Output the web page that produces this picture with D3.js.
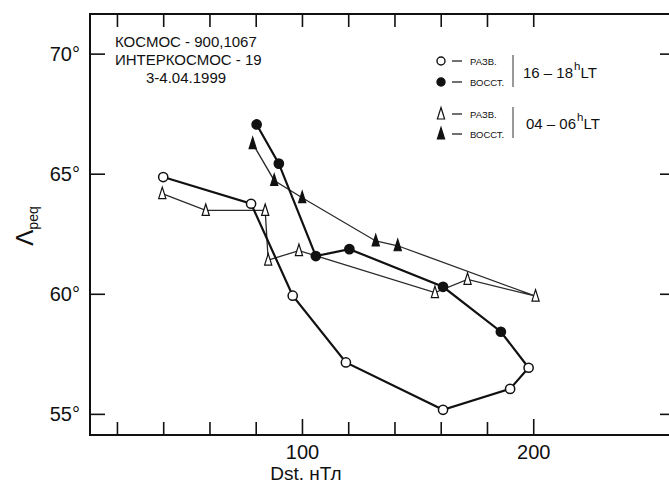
<!DOCTYPE html>
<html><head><meta charset="utf-8">
<script src="https://cdn.jsdelivr.net/npm/d3@7"></script>
<style>
html,body{margin:0;padding:0;background:#fff;overflow:hidden}
svg{display:block;font-family:"Liberation Sans",Arial,sans-serif}
</style></head>
<body>
<script>
// ---- data (Dst, nT ; Λpeq, deg) ----
const circOpenDst  = [40, 78, 96, 119, 161, 190, 198];
const circOpenLat  = [64.86, 63.75, 59.92, 57.14, 55.17, 56.04, 56.92];
const circFillDst  = [186, 161, 120.5, 106, 90, 80.4];
const circFillLat  = [58.42, 60.29, 61.86, 61.57, 65.42, 67.05];
const triOpenDst   = [39.6, 58.4, 84.1, 85.4, 98.7, 157.5, 171.6, 201];
const triOpenLat   = [64.17, 63.47, 63.47, 61.4, 61.8, 60.05, 60.6, 59.9];
const triFillDst   = [141.4, 131.9, 100.1, 88, 78.7];
const triFillLat   = [62.0, 62.2, 64.0, 64.72, 66.25];
const xTicks = [20, 40, 60, 80, 100, 120, 140, 160, 180, 200];
const xMajor = [100, 200];
const yTicks = [55, 60, 65, 70];
const titleLines = ["КОСМОС - 900,1067", "ИНТЕРКОСМОС - 19", "3-4.04.1999"];

const W = 669, H = 483;
const svg = d3.select("body").append("svg").attr("width", W).attr("height", H);
const L = 90, T = 14, R = 672, B = 435;
const x = d3.scaleLinear().domain([8.35, 260]).range([L, R]);
const y = d3.scaleLinear().domain([54.12, 71.65]).range([B, T]);

// frame
svg.append("rect").attr("x", L).attr("y", T).attr("width", R - L).attr("height", B - T)
  .attr("fill", "none").attr("stroke", "#111").attr("stroke-width", 2);

const fmtDeg = d => d + "°";
const axB = svg.append("g").attr("transform", `translate(0,${B})`)
  .call(d3.axisBottom(x).tickValues(xTicks).tickSizeInner(0).tickSizeOuter(0).tickFormat(d => xMajor.includes(d) ? d : ""));
axB.select(".domain").remove();
axB.selectAll(".tick line").attr("y2", d => xMajor.includes(d) ? -16 : -13).attr("stroke", "#111").attr("stroke-width", 1.6);
axB.selectAll(".tick text").attr("y", 10).attr("dy", "0.71em").attr("font-size", 20).attr("fill", "#111")
  .attr("font-family", "Liberation Sans, Arial, sans-serif");

const axT = svg.append("g").attr("transform", `translate(0,${T})`)
  .call(d3.axisTop(x).tickValues(xTicks).tickSizeInner(0).tickSizeOuter(0).tickFormat(""));
axT.select(".domain").remove();
axT.selectAll(".tick line").attr("y2", 13).attr("stroke", "#111").attr("stroke-width", 1.6);

const axL = svg.append("g").attr("transform", `translate(${L},0)`)
  .call(d3.axisLeft(y).tickValues(yTicks).tickSizeInner(0).tickSizeOuter(0).tickFormat(fmtDeg));
axL.select(".domain").remove();
axL.selectAll(".tick line").attr("x2", 15).attr("stroke", "#111").attr("stroke-width", 1.6);
axL.selectAll(".tick text").attr("x", -10).attr("font-size", 20).attr("fill", "#111")
  .attr("font-family", "Liberation Sans, Arial, sans-serif");

const axR = svg.append("g").attr("transform", `translate(${R},0)`)
  .call(d3.axisRight(y).tickValues(yTicks).tickSizeInner(0).tickSizeOuter(0).tickFormat(""));
axR.select(".domain").remove();
axR.selectAll(".tick line").attr("x2", -12).attr("stroke", "#111").attr("stroke-width", 1.6);

// axis titles
svg.append("text").attr("x", 306).attr("y", 480).attr("text-anchor", "middle")
  .attr("font-size", 19).attr("fill", "#111").text("Dst. нТл");
const yl = svg.append("text").attr("transform", "translate(33,226) rotate(-90)")
  .attr("text-anchor", "middle").attr("fill", "#111");
yl.append("tspan").attr("font-size", 24).text("Λ");
yl.append("tspan").attr("font-size", 14).attr("dy", 5).text("peq");

// title block
const tt = svg.append("g").attr("font-size", 15).attr("fill", "#111");
tt.append("text").attr("x", 115).attr("y", 47).text(titleLines[0]);
tt.append("text").attr("x", 115).attr("y", 65).text(titleLines[1]);
tt.append("text").attr("x", 146).attr("y", 83).text(titleLines[2]);

// series
const zip = (a, b) => a.map((v, i) => [v, b[i]]);
const circAll = zip(circOpenDst, circOpenLat).concat(zip(circFillDst, circFillLat));
const triAll = zip(triOpenDst, triOpenLat).concat(zip(triFillDst, triFillLat));
const line = d3.line().x(d => x(d[0])).y(d => y(d[1]));

svg.append("path").attr("d", line(triAll)).attr("fill", "none")
  .attr("stroke", "#2a2a2a").attr("stroke-width", 1.3);
svg.append("path").attr("d", line(circAll)).attr("fill", "none")
  .attr("stroke", "#111").attr("stroke-width", 2.2);

const triPath = "M0,-6.5L3.6,5L-3.6,5Z";
function tri(data, fill) {
  svg.append("g").selectAll("path").data(data).join("path")
    .attr("d", triPath).attr("transform", d => `translate(${x(d[0])},${y(d[1])})`)
    .attr("fill", fill).attr("stroke", "#111").attr("stroke-width", 1.2);
}
function circ(data, fill) {
  svg.append("g").selectAll("circle").data(data).join("circle")
    .attr("cx", d => x(d[0])).attr("cy", d => y(d[1])).attr("r", 4.6)
    .attr("fill", fill).attr("stroke", "#111").attr("stroke-width", 1.5);
}
tri(zip(triOpenDst, triOpenLat), "#fff");
tri(zip(triFillDst, triFillLat), "#111");
circ(zip(circOpenDst, circOpenLat), "#fff");
circ(zip(circFillDst, circFillLat), "#111");

// legend
const lg = svg.append("g").attr("fill", "#111");
const rows = [
  {y: 61, m: "co", lab: "РАЗВ."}, {y: 82, m: "cf", lab: "ВОССТ."},
  {y: 114, m: "to", lab: "РАЗВ."}, {y: 134, m: "tf", lab: "ВОССТ."}
];
rows.forEach(r => {
  if (r.m[0] === "c") {
    lg.append("circle").attr("cx", 441).attr("cy", r.y).attr("r", 4)
      .attr("fill", r.m === "cf" ? "#111" : "#fff").attr("stroke", "#111").attr("stroke-width", 1.4);
  } else {
    lg.append("path").attr("d", "M0,-6.5L3.6,5L-3.6,5Z").attr("transform", `translate(441,${r.y})`)
      .attr("fill", r.m === "tf" ? "#111" : "#fff").attr("stroke", "#111").attr("stroke-width", 1.2);
  }
  lg.append("line").attr("x1", 452).attr("x2", 462).attr("y1", r.y).attr("y2", r.y)
    .attr("stroke", "#111").attr("stroke-width", 1.2);
  lg.append("text").attr("x", 470).attr("y", r.y + 3.5).attr("font-size", 9.5).text(r.lab);
});
lg.append("line").attr("x1", 513).attr("x2", 513).attr("y1", 55).attr("y2", 87).attr("stroke", "#333").attr("stroke-width", 1);
lg.append("line").attr("x1", 513).attr("x2", 513).attr("y1", 107).attr("y2", 138).attr("stroke", "#333").attr("stroke-width", 1);
function ltLabel(xp, yp, txt) {
  const t = lg.append("text").attr("x", xp).attr("y", yp).attr("font-size", 15);
  t.append("tspan").text(txt);
  t.append("tspan").attr("font-size", 11.5).attr("dy", -8).attr("dx", 1).text("h");
  t.append("tspan").attr("dy", 8).text("LT");
}
ltLabel(523, 78, "16 – 18");
ltLabel(526, 129, "04 – 06");
</script>
</body></html>
